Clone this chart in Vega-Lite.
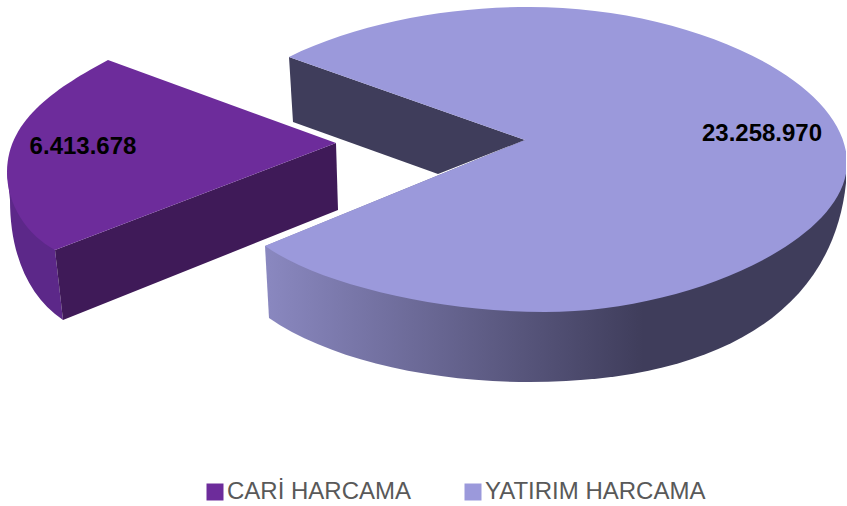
{
"$schema":"https://vega.github.io/schema/vega-lite/v6.json",
"width":846,"height":506,"padding":0,"autosize":{"type":"none"},
"background":"white",
"config":{"view":{"stroke":null},"font":"Liberation Sans","locale":{"number":{"decimal":",","thousands":".","grouping":[3],"currency":["","₺"]}}},
"data":{"values":[{"category":"CARİ HARCAMA","value":6413678},{"category":"YATIRIM HARCAMA","value":23258970}]},
"resolve":{"scale":{"color":"independent"},"legend":{"color":"independent"}},
"layer":[
{"mark":{"type":"point","filled":true,"opacity":1,"size":4,"shape":"square","strokeWidth":0},
 "encoding":{
  "color":{"field":"category","type":"nominal","scale":{"domain":["CARİ HARCAMA","YATIRIM HARCAMA"],"range":["#6d2c9b","#9b99db"]},
   "legend":{"title":null,"orient":"none","legendX":203,"legendY":480,"direction":"horizontal","columns":2,"symbolType":"square","symbolSize":289,"symbolStrokeWidth":0,"labelFontSize":24,"labelColor":"#595959","labelOffset":0,"labelLimit":400,"columnPadding":49,"labelFont":"Liberation Sans"}}
 }},
{"transform":[{"filter":"datum.category==='CARİ HARCAMA'"}],"mark":{"type":"point","filled":true,"opacity":1,"size":4,"fill":"#5c2889","strokeWidth":0},"encoding":{"shape":{"value":"M-416 -81 L-413 -53 C-413 -3 -397 42 -360 67 L-368 -3 Z"}}},
{"transform":[{"filter":"datum.category==='CARİ HARCAMA'"}],"mark":{"type":"point","filled":true,"opacity":1,"size":4,"fill":"#3f1a58","strokeWidth":0},"encoding":{"shape":{"value":"M-87 -110 L-85 -43 L-360 67 L-368 -3 Z"}}},
{"transform":[{"filter":"datum.category==='YATIRIM HARCAMA'"}],"mark":{"type":"point","filled":true,"opacity":1,"size":4,"strokeWidth":0,"fill":{"gradient":"linear","x1":0,"y1":0,"x2":1,"y2":0,"stops":[{"offset":0,"color":"#8a88c0"},{"offset":0.65,"color":"#3f3d5b"},{"offset":1,"color":"#3f3d5b"}]}},"encoding":{"shape":{"value":"M-158 -7 L-154 65 C-93 107 7 129 107 129 C297 129 417 57 424 -83 L424 -90 L102 -113 Z"}}},
{"transform":[{"filter":"datum.category==='YATIRIM HARCAMA'"}],"mark":{"type":"point","filled":true,"opacity":1,"size":4,"fill":"#3f3d5b","strokeWidth":0},"encoding":{"shape":{"value":"M-134 -196 L-130 -131 L15 -79 L102 -113 Z"}}},
{"mark":{"type":"point","filled":true,"opacity":1,"size":4,"strokeWidth":0},
 "encoding":{
  "color":{"field":"category","type":"nominal","scale":{"domain":["CARİ HARCAMA","YATIRIM HARCAMA"],"range":["#6d2c9b","#9b99db"]},"legend":null},
  "shape":{"field":"category","type":"nominal","legend":null,"scale":{"domain":["CARİ HARCAMA","YATIRIM HARCAMA"],"range":["M-87 -110 L-315 -193 C-363 -167 -416 -135 -416 -81 C-416 -48 -396 -18 -368 -3 Z","M102 -113 L-134 -196 C-63 -231 27 -246 107 -246 C267 -246 424 -173 424 -90 C424 -13 267 59 122 59 C17 59 -103 32 -158 -7 Z"]}}
 }},
{"transform":[{"filter":"datum.category==='CARİ HARCAMA'"}],"mark":{"type":"text","dx":-340,"dy":-106,"fontSize":24,"fontWeight":"bold","color":"black","font":"Liberation Sans"},"encoding":{"text":{"field":"value","type":"quantitative","format":",d"}}},
{"transform":[{"filter":"datum.category==='YATIRIM HARCAMA'"}],"mark":{"type":"text","dx":339,"dy":-119,"fontSize":24,"fontWeight":"bold","color":"black","font":"Liberation Sans"},"encoding":{"text":{"field":"value","type":"quantitative","format":",d"}}}
]
}
